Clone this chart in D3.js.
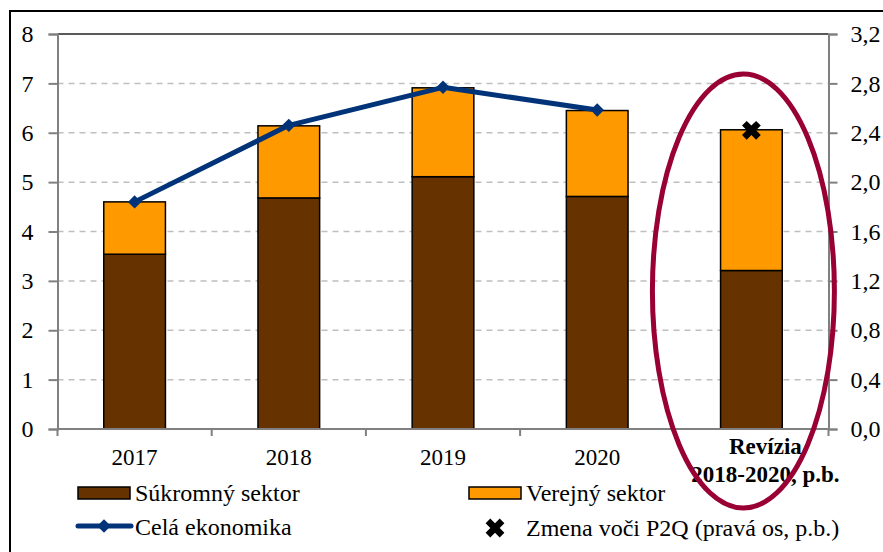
<!DOCTYPE html>
<html><head><meta charset="utf-8">
<script src="https://cdn.jsdelivr.net/npm/d3@7"></script>
<style>body{margin:0;background:#fff;} svg{display:block;} svg text{font-family:"Liberation Serif","Times New Roman",serif !important;}</style>
</head><body>
<script>
const categories = ["2017","2018","2019","2020","Revízia 2018-2020, p.b."];
const privateSector = [3.54, 4.68, 5.11, 4.71, 3.21];
const publicSector = [1.06, 1.46, 1.80, 1.74, 2.85];
const wholeEconomy = [4.60, 6.15, 6.92, 6.46, null];
const changeVsP2Q = [null, null, null, null, 2.42];
const leftTicks = [0,1,2,3,4,5,6,7,8];
const rightTicks = [0,0.4,0.8,1.2,1.6,2.0,2.4,2.8,3.2];
const legendLabels = ["Súkromný sektor","Verejný sektor","Celá ekonomika","Zmena voči P2Q (pravá os, p.b.)"];

const W=883,H=552;
const svg=d3.select("body").append("svg").attr("width",W).attr("height",H);
const L=57.5,R=828.5,T=34,B=429;
const x=d3.scaleBand().domain(categories).range([L,R]).paddingInner(0.6).paddingOuter(0.3);
const xb=d3.scaleBand().domain(categories).range([L,R]);
const y=d3.scaleLinear().domain([0,8]).range([B,T]);
const y2=d3.scaleLinear().domain([0,3.2]).range([B,T]);
const fs=23, fsl=24;

// outer border
svg.append("rect").attr("x",10).attr("y",11).attr("width",W+20).attr("height",H+20).attr("fill","none").attr("stroke","#000").attr("stroke-width",2);

// gridlines
svg.append("g").selectAll("line").data(leftTicks.filter(d=>d>0&&d<8)).join("line")
 .attr("x1",L).attr("x2",R).attr("y1",d=>y(d)).attr("y2",d=>y(d))
 .attr("stroke","#bfbfbf").attr("stroke-width",1.5).attr("stroke-dasharray","6,5");
// top border of plot
svg.append("line").attr("x1",L).attr("x2",R).attr("y1",y(8)).attr("y2",y(8)).attr("stroke","#222").attr("stroke-width",1.5);

// left axis
const ga=svg.append("g").attr("transform",`translate(${L},0)`)
 .call(d3.axisLeft(y).tickValues(leftTicks).tickSize(9).tickPadding(15).tickFormat(d3.format("d")));
// right axis
const gr=svg.append("g").attr("transform",`translate(${R},0)`)
 .call(d3.axisRight(y2).tickValues(rightTicks).tickSize(9).tickPadding(13).tickFormat(d=>d3.format(".1f")(d).replace(".",",")));
[ga,gr].forEach(g=>{g.attr("font-family",null).attr("font-size",null);
 g.select(".domain").attr("stroke","#808080").attr("stroke-width",2);
 g.selectAll(".tick line").attr("stroke","#808080").attr("stroke-width",2);
 g.selectAll("text").attr("font-size",fsl).attr("fill","#000");});

// bars
const stack=categories.map((c,i)=>({c,p:privateSector[i],q:publicSector[i]}));
const gb=svg.append("g");
gb.selectAll("rect.p").data(stack).join("rect").attr("class","p")
 .attr("x",d=>x(d.c)).attr("width",x.bandwidth()).attr("y",d=>y(d.p)).attr("height",d=>y(0)-y(d.p))
 .attr("fill","#663300").attr("stroke","#000").attr("stroke-width",1.5);
gb.selectAll("rect.q").data(stack).join("rect").attr("class","q")
 .attr("x",d=>x(d.c)).attr("width",x.bandwidth()).attr("y",d=>y(d.p+d.q)).attr("height",d=>y(d.p)-y(d.p+d.q))
 .attr("fill","#ff9900").attr("stroke","#000").attr("stroke-width",1.5);

// bottom axis
const gx=svg.append("g").attr("transform",`translate(0,${B})`);
gx.append("line").attr("x1",L).attr("x2",R).attr("stroke","#808080").attr("stroke-width",2);
gx.selectAll("line.t").data(categories.concat(["end"])).join("line").attr("class","t")
 .attr("x1",(d,i)=>L+i*xb.bandwidth()).attr("x2",(d,i)=>L+i*xb.bandwidth()).attr("y1",0).attr("y2",7)
 .attr("stroke","#808080").attr("stroke-width",2);
categories.forEach((c,i)=>{
  const cx=xb(c)+xb.bandwidth()/2;
  if(i<4){
    gx.append("text").attr("x",cx).attr("y",36).attr("text-anchor","middle").attr("font-size",fs).text(c);
  } else {
    const t=gx.append("text").attr("text-anchor","middle").attr("font-size",fs).attr("font-weight","bold");
    t.append("tspan").attr("x",cx+14).attr("y",25).text("Revízia");
    t.append("tspan").attr("x",cx+14).attr("y",53).text("2018-2020, p.b.");
  }
});

// line
const lineData=categories.map((c,i)=>({c,v:wholeEconomy[i]})).filter(d=>d.v!=null);
const cxf=c=>x(c)+x.bandwidth()/2;
svg.append("path").datum(lineData).attr("fill","none").attr("stroke","#003378").attr("stroke-width",5)
 .attr("stroke-linejoin","round").attr("d",d3.line().x(d=>cxf(d.c)).y(d=>y(d.v)));
svg.selectAll("path.m").data(lineData).join("path").attr("class","m")
 .attr("d",d3.symbol().type(d3.symbolSquare).size(90)).attr("transform",d=>`translate(${cxf(d.c)},${y(d.v)}) rotate(45)`)
 .attr("fill","#003378");

// X marker
const crossPath=d3.symbol().type(d3.symbolCross).size(220);
const xData=categories.map((c,i)=>({c,v:changeVsP2Q[i]})).filter(d=>d.v!=null);
svg.selectAll("path.x").data(xData).join("path").attr("class","x")
 .attr("transform",d=>`translate(${cxf(d.c)},${y2(d.v)}) rotate(45)`)
 .attr("d",crossPath).attr("fill","#000");

// ellipse highlight
svg.append("ellipse").attr("cx",xb(categories[4])+xb.bandwidth()/2-8).attr("cy",291).attr("rx",91).attr("ry",217)
 .attr("fill","none").attr("stroke","#990033").attr("stroke-width",5);

// legend
const lg=svg.append("g").attr("font-size",fsl);
lg.append("rect").attr("x",78).attr("y",487).attr("width",52).attr("height",12).attr("fill","#663300").attr("stroke","#000").attr("stroke-width",1.5);
lg.append("text").attr("x",135).attr("y",501).text(legendLabels[0]);
lg.append("rect").attr("x",469).attr("y",487).attr("width",52).attr("height",12).attr("fill","#ff9900").attr("stroke","#000").attr("stroke-width",1.5);
lg.append("text").attr("x",526).attr("y",501).text(legendLabels[1]);
lg.append("line").attr("x1",78).attr("x2",131).attr("y1",526).attr("y2",526).attr("stroke","#003378").attr("stroke-width",5).attr("stroke-linecap","round");
lg.append("path").attr("transform","translate(104,526) rotate(45)").attr("d",d3.symbol().type(d3.symbolSquare).size(90)).attr("fill","#003378");
lg.append("text").attr("x",135).attr("y",535).text(legendLabels[2]);
lg.append("path").attr("transform","translate(495,528) rotate(45)").attr("d",crossPath).attr("fill","#000");
lg.append("text").attr("x",526).attr("y",536).text(legendLabels[3]);
</script>
</body></html>
